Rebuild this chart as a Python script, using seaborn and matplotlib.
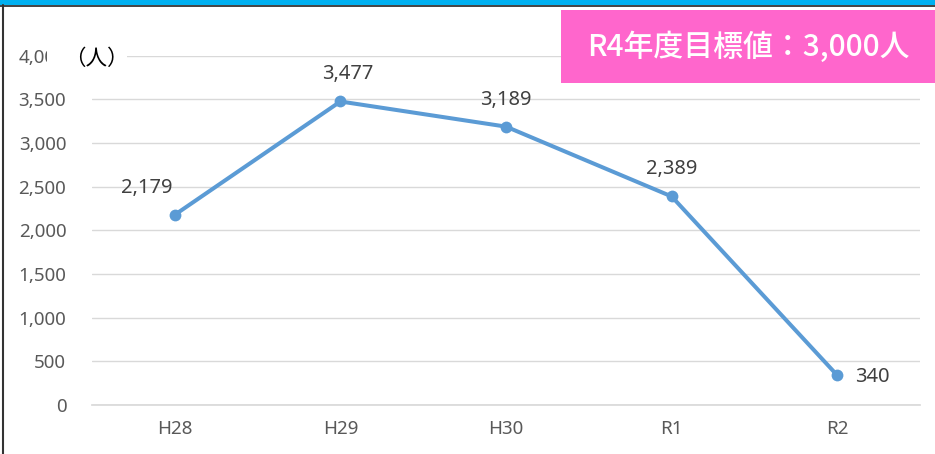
import matplotlib
matplotlib.use("Agg")
import matplotlib.pyplot as plt
import seaborn as sns
import pandas as pd
from matplotlib.patches import Rectangle
from matplotlib.lines import Line2D

years = ["H28", "H29", "H30", "R1", "R2"]
people = [2179, 3477, 3189, 2389, 340]
y_ticks = [0, 500, 1000, 1500, 2000, 2500, 3000, 3500, 4000]

df = pd.DataFrame({"year": years, "people": people})

sns.set_theme(style="white")
plt.rcParams["font.family"] = ["Noto Sans", "Noto Sans CJK JP", "DejaVu Sans"]
cjk = ["Noto Sans CJK JP", "DejaVu Sans"]

fig = plt.figure(figsize=(9.35, 4.54), dpi=100)
ax = fig.add_axes([0.0984, 0.108, 0.8856, 0.769])

sns.lineplot(data=df, x="year", y="people", ax=ax, color="#5B9BD5",
             linewidth=2.9, marker="o", markersize=8.5, markeredgewidth=0, sort=False)

ax.set_xlim(-0.5, len(years) - 0.5)
ax.set_ylim(0, 4000)
ax.set_yticks(y_ticks)
ax.set_yticklabels([f"{v:,}" for v in y_ticks])
ax.yaxis.grid(True, color="#D9D9D9", linewidth=1)
ax.set_axisbelow(True)
for s in ax.spines.values():
    s.set_visible(False)
ax.spines["bottom"].set_visible(True)
ax.spines["bottom"].set_color("#D9D9D9")
ax.tick_params(axis="both", colors="#595959", labelsize=13.5, length=0)
ax.tick_params(axis="y", pad=18.5)
ax.tick_params(axis="x", pad=11)
ax.set_xlabel("")
ax.set_ylabel("")

offsets = [(-20, 19.5), (5, 19.5), (0, 19.5), (0, 19.5), (13, -1)]
aligns = ["center", "center", "center", "center", "left"]
for i, (v, off, ha) in enumerate(zip(people, offsets, aligns)):
    ax.annotate(f"{v:,}", (i, v), xytext=off, textcoords="offset points",
                ha=ha, va="center", fontsize=14.5, color="#404040")

# white patch hiding part of the top tick label, then the unit label
fig.patches.append(Rectangle((47 / 935, 1 - 72 / 454), 80 / 935, 28 / 454,
                             transform=fig.transFigure, fc="white", ec="none"))
fig.text(64 / 935, 1 - 59 / 454, "（人）", fontsize=15.5, color="black",
         va="center", ha="left", family=cjk, zorder=3)

# pink target box
fig.patches.append(Rectangle((561 / 935, 1 - 83 / 454), 1 - 561 / 935, 73 / 454,
                             transform=fig.transFigure, fc="#FF66CC", ec="none"))
fig.text(748 / 935, 1 - 47 / 454, "R4年度目標値：3,000人", family=cjk,
         fontsize=21.5, color="white", fontweight="medium", ha="center",
         va="center", zorder=3)

# frame: cyan band on top, dark lines
fig.patches.append(Rectangle((0, 1 - 5 / 454), 1, 5 / 454, transform=fig.transFigure,
                             fc="#00B0F0", ec="none"))
fig.lines.append(Line2D([0, 1], [1 - 5.5 / 454] * 2, transform=fig.transFigure,
                        color="#222222", linewidth=1.2))
fig.lines.append(Line2D([3 / 935] * 2, [0, 1 - 5 / 454], transform=fig.transFigure,
                        color="#333333", linewidth=1.5))

fig.savefig("out.png", dpi=100)
